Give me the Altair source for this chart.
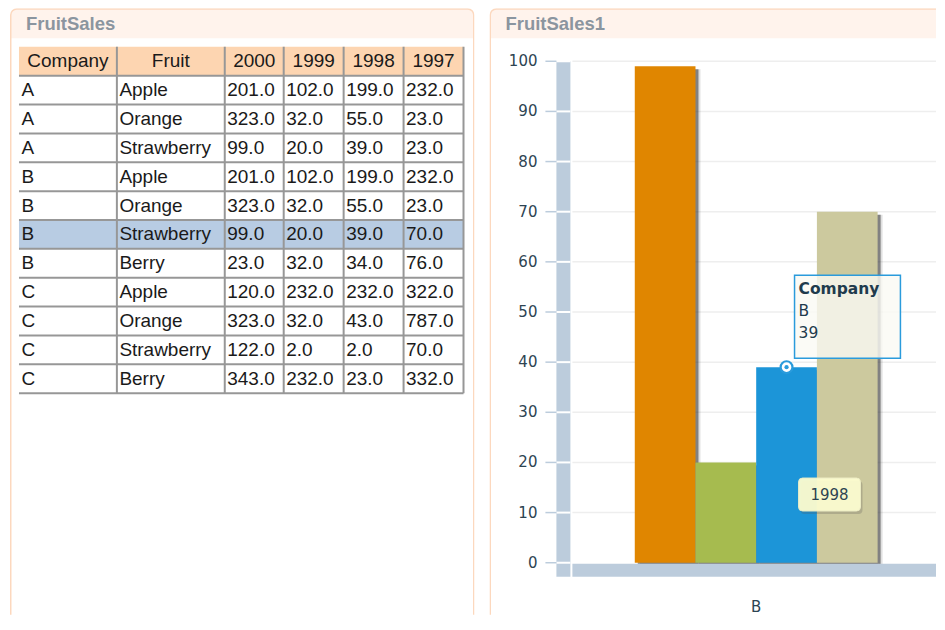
import altair as alt
import pandas as pd

# ---------------- data ----------------
companies = ["A", "A", "A", "B", "B", "B", "B", "C", "C", "C", "C"]
fruits = ["Apple", "Orange", "Strawberry", "Apple", "Orange", "Strawberry",
          "Berry", "Apple", "Orange", "Strawberry", "Berry"]
years = ["2000", "1999", "1998", "1997"]
sales_2000 = [201, 323, 99, 201, 323, 99, 23, 120, 323, 122, 343]
sales_1999 = [102, 32, 20, 102, 32, 20, 32, 232, 32, 2, 232]
sales_1998 = [199, 55, 39, 199, 55, 39, 34, 232, 43, 2, 23]
sales_1997 = [232, 23, 23, 232, 23, 70, 76, 322, 787, 70, 332]
header_labels = ["Company", "Fruit"] + years
selected_row = 5          # B / Strawberry
hover_year = "1998"
y_ticks = [0, 10, 20, 30, 40, 50, 60, 70, 80, 90, 100]

# ---------------- layout / style ----------------
H = 607
LW, RW = 465, 447
col_widths = [98, 108, 59, 60, 60, 60]
table_left = 9
table_top = 38.5
row_h = 28.9
n_rows = 12
peach_border = "#FCD8BE"
title_fill = "#FFF3EC"
title_color = "#8B959F"
band_color = "#BCCCDC"
label_color = "#2D4452"
bar_colors = ["#E08600", "#A6BB4F", "#1C95D8", "#CCC99E"]
FONT_T = "Liberation Sans"
FONT_C = "DejaVu Sans"

col_lefts = [table_left]
for w in col_widths[:-1]:
    col_lefts.append(col_lefts[-1] + w)
col_rights = [l + w for l, w in zip(col_lefts, col_widths)]
table_right = col_rights[-1]
table_bottom = table_top + n_rows * row_h

dummy = pd.DataFrame({"d": [0]})


def frame_layers(W, title, open_right):
    x2 = W + 30 if open_right else W - 0.75
    bg = alt.Chart(dummy).mark_rect(fill="white", clip=True, cornerRadius=6).encode(
        x=alt.value(0.75), x2=alt.value(x2), y=alt.value(0.75), y2=alt.value(H + 30))
    tb = alt.Chart(dummy).mark_rect(fill=title_fill, clip=True,
                                    cornerRadiusTopLeft=6, cornerRadiusTopRight=6).encode(
        x=alt.value(0.75), x2=alt.value(x2), y=alt.value(0.75), y2=alt.value(30))
    fr = alt.Chart(dummy).mark_rect(fill="transparent", stroke=peach_border, strokeWidth=1.5,
                                    clip=True, cornerRadius=6).encode(
        x=alt.value(0.75), x2=alt.value(x2), y=alt.value(0.75), y2=alt.value(H + 30))
    tt = alt.Chart(dummy).mark_text(text=title, font=FONT_T, fontSize=18.5, fontWeight="bold",
                                    color=title_color, align="left", baseline="middle").encode(
        x=alt.value(16), y=alt.value(15.5))
    return [bg, tb, fr, tt]


# ---------------- left panel : table ----------------
xs = alt.Scale(domain=[0, LW], range=[0, LW], nice=False, zero=False)
ys = alt.Scale(domain=list(range(n_rows)), range=[table_top, table_bottom],
               paddingInner=0, paddingOuter=0)

cells = []
for i in range(len(companies)):
    vals = [companies[i], fruits[i],
            f"{sales_2000[i]:.1f}", f"{sales_1999[i]:.1f}",
            f"{sales_1998[i]:.1f}", f"{sales_1997[i]:.1f}"]
    for c, v in enumerate(vals):
        cells.append({"row": i + 1, "x": col_lefts[c] + 2.5, "text": v})
cells_df = pd.DataFrame(cells)
head_df = pd.DataFrame({"row": [0] * 6,
                        "x": [(l + r) / 2 for l, r in zip(col_lefts, col_rights)],
                        "text": header_labels})
hlines_df = pd.DataFrame({"row": list(range(n_rows))})
vlines_df = pd.DataFrame({"x": col_rights})

header_bg = alt.Chart(pd.DataFrame({"row": [0]})).mark_rect(fill="#FDD5B1").encode(
    y=alt.Y("row:O", scale=ys, axis=None), x=alt.value(table_left), x2=alt.value(table_right))
sel_bg = alt.Chart(pd.DataFrame({"row": [selected_row + 1]})).mark_rect(fill="#B8CCE3").encode(
    y=alt.Y("row:O", scale=ys, axis=None), x=alt.value(table_left), x2=alt.value(table_right))
hlines = alt.Chart(hlines_df).mark_rule(color="#979797", strokeWidth=2).encode(
    y=alt.Y("row:O", scale=ys, axis=None, bandPosition=1),
    x=alt.value(table_left), x2=alt.value(table_right))
vlines = alt.Chart(vlines_df).mark_rule(color="#979797", strokeWidth=2).encode(
    x=alt.X("x:Q", scale=xs, axis=None),
    y=alt.value(table_top), y2=alt.value(table_bottom))
head_text = alt.Chart(head_df).mark_text(font=FONT_T, fontSize=19, color="#1A1A1A",
                                         align="center", baseline="middle").encode(
    x=alt.X("x:Q", scale=xs, axis=None), y=alt.Y("row:O", scale=ys, axis=None), text="text:N")
body_text = alt.Chart(cells_df).mark_text(font=FONT_T, fontSize=19, color="#1A1A1A",
                                          align="left", baseline="middle").encode(
    x=alt.X("x:Q", scale=xs, axis=None), y=alt.Y("row:O", scale=ys, axis=None), text="text:N")

left = alt.layer(*frame_layers(LW, "FruitSales", False), header_bg, sel_bg, hlines, vlines,
                 head_text, body_text).properties(width=LW, height=H)

# ---------------- right panel : bar chart ----------------
sel_vals = [sales_2000[selected_row], sales_1999[selected_row],
            sales_1998[selected_row], sales_1997[selected_row]]
bars_df = pd.DataFrame({"Company": [companies[selected_row]] * 4,
                        "Year": years, "Sales": sel_vals})
hover_df = bars_df[bars_df["Year"] == hover_year]
ticks_df = pd.DataFrame({"tick": y_ticks})

yS = alt.Scale(domain=[0, 100], range=[555, 53], nice=False, zero=True)
xS = alt.Scale(domain=[companies[selected_row]], range=[82, 452], paddingInner=0, paddingOuter=0.261)
xoS = alt.Scale(type="band", domain=years, paddingInner=0, paddingOuter=0)
group_w = 370 / (1 + 2 * 0.261)

X = alt.X("Company:N", scale=xS, axis=None)
XO = alt.XOffset("Year:N", scale=xoS, sort=years)
Y = alt.Y("Sales:Q", scale=yS, axis=None)

grid = alt.Chart(ticks_df[ticks_df.tick > 0]).mark_rule(color="#EEEEEE", strokeWidth=1.5).encode(
    y=alt.Y("tick:Q", scale=yS, axis=None), x=alt.value(83), x2=alt.value(RW))
vband = alt.Chart(dummy).mark_rect(color=band_color).encode(
    x=alt.value(67), x2=alt.value(81), y=alt.value(53), y2=alt.value(569))
hband = alt.Chart(dummy).mark_rect(color=band_color).encode(
    x=alt.value(83), x2=alt.value(RW), y=alt.value(556), y2=alt.value(569))
seps = alt.Chart(ticks_df).mark_rule(color="white", strokeWidth=2).encode(
    y=alt.Y("tick:Q", scale=yS, axis=None), x=alt.value(67), x2=alt.value(81))
tickmarks = alt.Chart(ticks_df).mark_rule(color=band_color, strokeWidth=1.5).encode(
    y=alt.Y("tick:Q", scale=yS, axis=None), x=alt.value(56), x2=alt.value(67))
ylabels = alt.Chart(ticks_df).mark_text(font=FONT_C, fontSize=15, color=label_color,
                                        align="right", baseline="middle").encode(
    y=alt.Y("tick:Q", scale=yS, axis=None), x=alt.value(48), text="tick:Q")


def shadow(shift, color, op):
    return alt.Chart(bars_df).mark_bar(color=color, opacity=op, yOffset=3).encode(
        x=X,
        xOffset=alt.XOffset("Year:N", sort=years,
                            scale=alt.Scale(type="band", domain=years, paddingInner=0, paddingOuter=0,
                                            range=[shift, group_w + shift])),
        y=Y)


shadow_o = shadow(5, "#000000", 0.12)
shadow_i = shadow(3, "#333333", 0.55)
bars = alt.Chart(bars_df).mark_bar().encode(
    x=X, xOffset=XO, y=Y,
    color=alt.Color("Year:N", scale=alt.Scale(domain=years, range=bar_colors), legend=None))
xlabel = alt.Chart(bars_df.head(1)).mark_text(font=FONT_C, fontSize=15, color=label_color,
                                              baseline="middle").encode(
    x=X, y=alt.value(599), text="Company:N")

blue = "#2A9BDC"
tip_box = alt.Chart(hover_df).mark_point(
    shape="M0.16,-1.84H2.28V-0.18H0.16Z", size=10000, filled=True,
    fill="#FAFAF4", fillOpacity=0.8, stroke=blue, strokeWidth=1.5, strokeOpacity=1, opacity=1).encode(
    x=X, xOffset=XO, y=Y)
tip_t1 = alt.Chart(hover_df).mark_text(font=FONT_C, fontSize=15.5, fontWeight="bold", color="#1F3B4D",
                                       align="left", baseline="middle", dx=12, dy=-78,
                                       text="Company").encode(x=X, xOffset=XO, y=Y)
tip_t2 = alt.Chart(hover_df).mark_text(font=FONT_C, fontSize=15.5, color="#1F3B4D",
                                       align="left", baseline="middle", dx=12, dy=-56).encode(
    x=X, xOffset=XO, y=Y, text="Company:N")
tip_t3 = alt.Chart(hover_df).mark_text(font=FONT_C, fontSize=15.5, color="#1F3B4D",
                                       align="left", baseline="middle", dx=12, dy=-34).encode(
    x=X, xOffset=XO, y=Y, text="Sales:Q")
ring = alt.Chart(hover_df).mark_point(shape="circle", size=140, filled=True, fill="white",
                                      stroke=blue, strokeWidth=2.2, opacity=1).encode(
    x=X, xOffset=XO, y=Y)
dot = alt.Chart(hover_df).mark_point(shape="circle", size=18, filled=True, color=blue, opacity=1).encode(
    x=X, xOffset=XO, y=Y)
ybox_path = ("M0.32,2.22H1.40Q1.48,2.22 1.48,2.30V2.80Q1.48,2.88 1.40,2.88H0.32"
             "Q0.24,2.88 0.24,2.80V2.30Q0.24,2.22 0.32,2.22Z")
ybox_sh_path = ("M0.36,2.28H1.44Q1.52,2.28 1.52,2.36V2.86Q1.52,2.94 1.44,2.94H0.36"
                "Q0.28,2.94 0.28,2.86V2.36Q0.28,2.28 0.36,2.28Z")
ybox_sh = alt.Chart(hover_df).mark_point(
    shape=ybox_sh_path, size=10000, filled=True,
    color="#555555", opacity=0.25).encode(x=X, xOffset=XO, y=Y)
ybox = alt.Chart(hover_df).mark_point(
    shape=ybox_path, size=10000, filled=True,
    fill="#FDFDD0", opacity=0.95, stroke="#F0F0C8", strokeWidth=1).encode(x=X, xOffset=XO, y=Y)
ybox_t = alt.Chart(hover_df).mark_text(font=FONT_C, fontSize=15, color=label_color,
                                       align="center", baseline="middle", dx=43, dy=128).encode(
    x=X, xOffset=XO, y=Y, text="Year:N")

right = alt.layer(*frame_layers(RW, "FruitSales1", True), grid, vband, seps, tickmarks, ylabels,
                  shadow_o, shadow_i, bars, hband, xlabel, tip_box, tip_t1, tip_t2, tip_t3,
                  ring, dot, ybox_sh, ybox, ybox_t).resolve_scale(
    xOffset="independent").properties(width=RW, height=H)

chart = alt.hconcat(left, right, spacing=15).properties(
    padding={"left": 2, "top": 0, "right": 0, "bottom": 0},
    background="white",
).configure_view(stroke=None)

chart.save("out.html", embed_options={"renderer": "svg", "actions": False})
